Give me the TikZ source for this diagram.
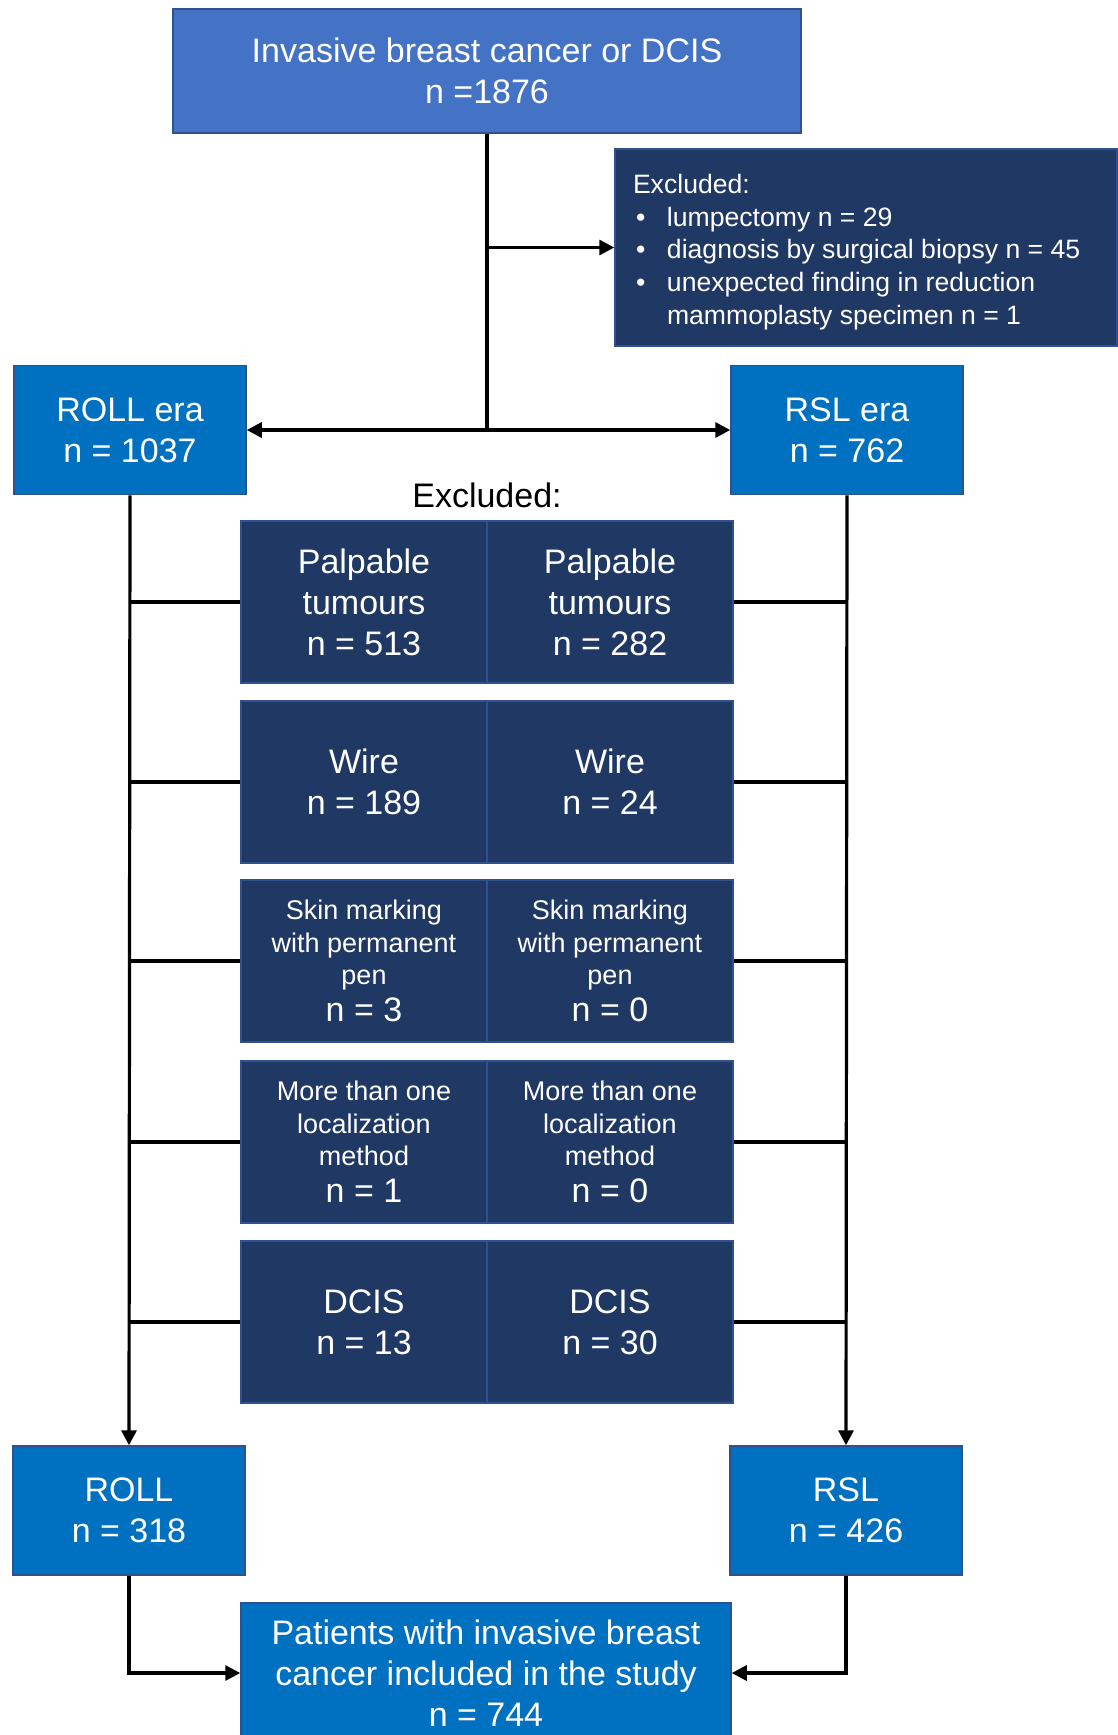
\documentclass[tikz,border=0pt]{standalone}
\usepackage{fontspec}
\setmainfont{Liberation Sans}
\usetikzlibrary{arrows.meta,positioning}

\definecolor{topblue}{HTML}{4472C4}
\definecolor{erablue}{HTML}{0070C0}
\definecolor{navyfill}{HTML}{203864}
\definecolor{edgeblue}{HTML}{2F528F}

\newcommand{\bigtxt}{\fontsize{34}{41}\selectfont}
\newcommand{\smalltxt}{\fontsize{27}{32.7}\selectfont}
\newcommand{\exbullet}{\makebox[34pt][l]{\hspace{3pt}\textbullet}}

\begin{document}
\begin{tikzpicture}[
    x=1pt, y=-1pt,
    every node/.style={font=\bigtxt, text=white, align=center, inner sep=0pt},
    flow/.style={-{Triangle[length=15pt,width=15pt]}, line width=3.2pt},
    link/.style={line width=3.2pt},
    topbox/.style={draw=edgeblue, line width=1.5pt, fill=topblue, minimum width=628pt, minimum height=124pt},
    erabox/.style={draw=edgeblue, line width=1.5pt, fill=erablue, minimum width=232pt, minimum height=129pt},
    exbox/.style={draw=edgeblue, line width=1.5pt, fill=navyfill, minimum width=246pt, minimum height=162pt, text width=240pt, align=flush center}
]
\useasboundingbox (0,0) rectangle (1117,1735);

\node[topbox] (cohort) at (487,71) {Invasive breast cancer or DCIS\\n =1876};
\node[exbox, minimum width=502pt, minimum height=197pt, text width=466pt, align=flush left, font=\fontsize{26.6}{32.7}\selectfont] (early) at (866,247.5)
  {\rule{0pt}{28pt}Excluded:\\
   \exbullet lumpectomy n = 29\\
   \exbullet diagnosis by surgical biopsy n = 45\\
   \exbullet unexpected finding in reduction\\
   \hspace*{34pt}mammoplasty specimen n = 1};

\node[erabox] (rollera) at (130,430) {ROLL era\\n = 1037};
\node[erabox] (rslera) at (847,430) {RSL era\\n = 762};
\node[text=black] (exlabel) at (487,495) {Excluded:};

% exclusions per era
\node[exbox] (palproll) at (364,602) {Palpable\\tumours\\n = 513};
\node[exbox] (palprsl) at (610,602) {Palpable\\tumours\\n = 282};
\node[exbox] (wireroll) at (364,782) {Wire\\n = 189};
\node[exbox] (wirersl) at (610,782) {Wire\\n = 24};
\node[exbox] (skinroll) at (364,961) {{\smalltxt Skin marking\\with permanent\\pen\par}\vspace{-4pt}n = 3};
\node[exbox] (skinrsl) at (610,961) {{\smalltxt Skin marking\\with permanent\\pen\par}\vspace{-4pt}n = 0};
\node[exbox] (multiroll) at (364,1142) {{\smalltxt More than one\\localization\\method\par}\vspace{-4pt}n = 1};
\node[exbox] (multirsl) at (610,1142) {{\smalltxt More than one\\localization\\method\par}\vspace{-4pt}n = 0};
\node[exbox] (dcisroll) at (364,1322) {DCIS\\n = 13};
\node[exbox] (dcisrsl) at (610,1322) {DCIS\\n = 30};

\node[erabox] (roll) at (129,1510.5) {ROLL\\n = 318};
\node[erabox] (rsl) at (846,1510.5) {RSL\\n = 426};
\node[erabox, minimum width=490pt, minimum height=140pt] (study) at (486,1673)
  {Patients with invasive breast\\cancer included in the study\\n = 744};

\coordinate (split) at (cohort.south |- rollera.east);
\draw[link] (cohort.south) -- (split);
\draw[flow] (cohort.south |- early.west) -- (early.west);
\draw[flow] (split) -- (rollera.east);
\draw[flow] (split) -- (rslera.west);

\draw[flow] (rollera.south) -- (roll.north);
\draw[flow] (rslera.south) -- (rsl.north);
\draw[link] (rollera.south |- palproll.west) -- (palproll.west);
\draw[link] (rollera.south |- wireroll.west) -- (wireroll.west);
\draw[link] (rollera.south |- skinroll.west) -- (skinroll.west);
\draw[link] (rollera.south |- multiroll.west) -- (multiroll.west);
\draw[link] (rollera.south |- dcisroll.west) -- (dcisroll.west);
\draw[link] (rslera.south |- palprsl.east) -- (palprsl.east);
\draw[link] (rslera.south |- wirersl.east) -- (wirersl.east);
\draw[link] (rslera.south |- skinrsl.east) -- (skinrsl.east);
\draw[link] (rslera.south |- multirsl.east) -- (multirsl.east);
\draw[link] (rslera.south |- dcisrsl.east) -- (dcisrsl.east);

\draw[flow] (roll.south) |- (study.west);
\draw[flow] (rsl.south) |- (study.east);
\end{tikzpicture}
\end{document}
